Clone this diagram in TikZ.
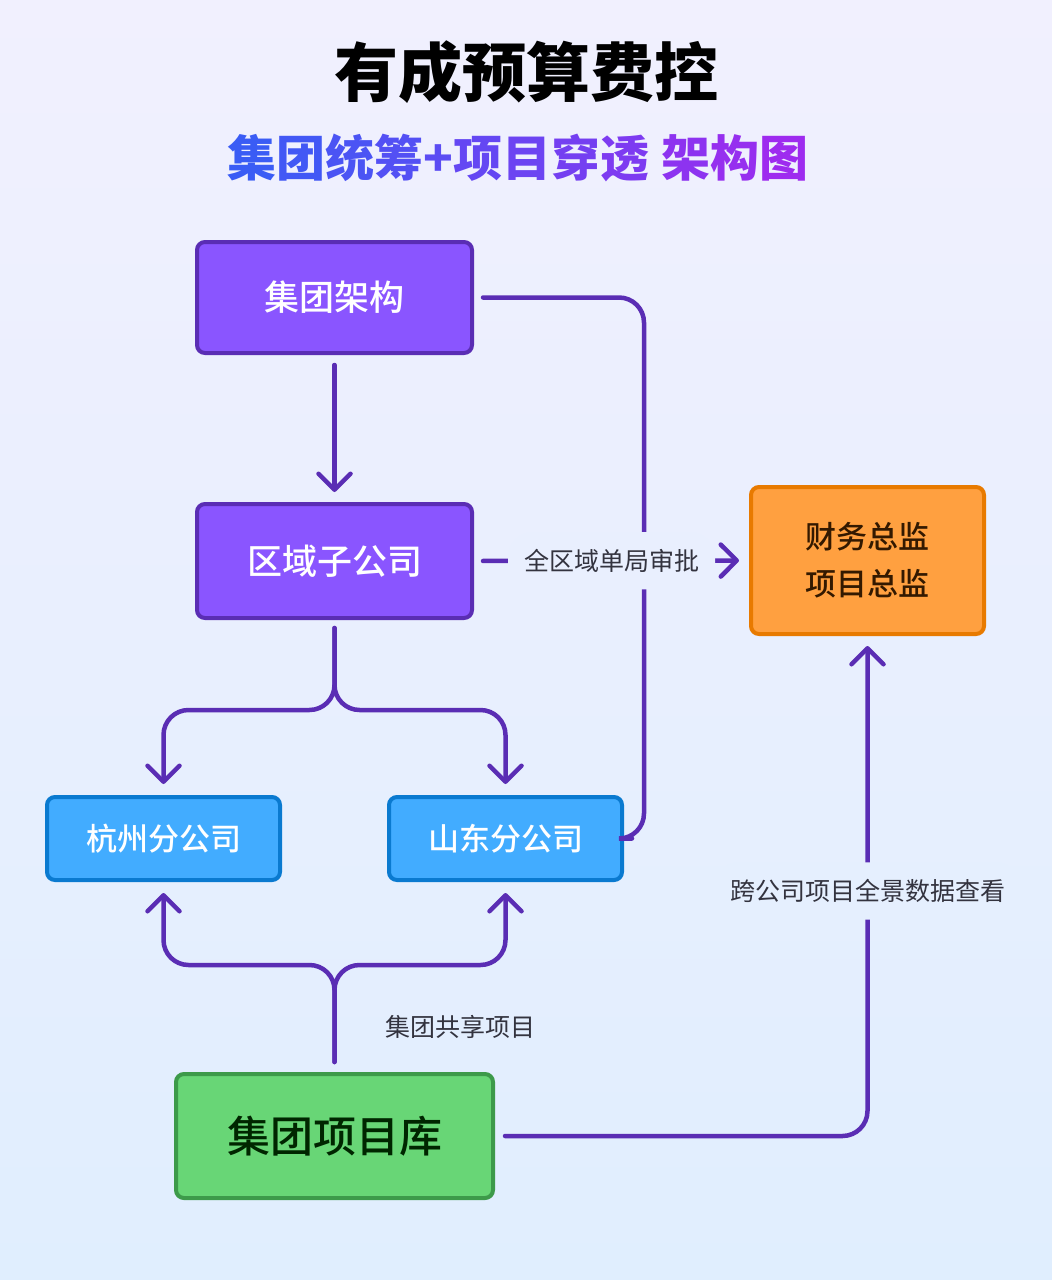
\documentclass[tikz,border=0pt]{standalone}
\usepackage{fontspec}
\setmainfont{Noto Sans CJK SC}
\newfontfamily\cjkmedium{Noto Sans CJK SC Medium}
\usetikzlibrary{arrows.meta,calc}

\definecolor{bgTop}{HTML}{F1F0FE}
\definecolor{bgBot}{HTML}{E0EEFE}
\definecolor{bgApprove}{HTML}{E9EFFE}
\definecolor{bgView}{HTML}{E5EFFE}
\definecolor{lineC}{HTML}{5A2DB4}
\definecolor{labelC}{HTML}{33333F}
\definecolor{purpleFill}{HTML}{8A55FF}
\definecolor{purpleDraw}{HTML}{5A2DB4}
\definecolor{blueFill}{HTML}{42ACFF}
\definecolor{blueDraw}{HTML}{0A7AD0}
\definecolor{orangeFill}{HTML}{FFA040}
\definecolor{orangeDraw}{HTML}{E87A00}
\definecolor{greenFill}{HTML}{68D676}
\definecolor{greenDraw}{HTML}{3D9A4A}
\definecolor{subA}{HTML}{3A5CF5}
\definecolor{subB}{HTML}{9E2BEF}

\newcommand{\gradChar}[2]{\textcolor{subB!#1!subA}{#2}}

\begin{document}
\begin{tikzpicture}
[x=1pt,y=-1pt,
  nodeBox/.style={draw,line width=4pt,rounded corners=8pt,align=center},%
  groupBox/.style={nodeBox,fill=purpleFill,draw=purpleDraw,text=white,
    minimum width=275pt,font=\cjkmedium\fontsize{35}{42}\selectfont},%
  branchBox/.style={nodeBox,fill=blueFill,draw=blueDraw,text=white,
    minimum width=233pt,minimum height=83pt,font=\cjkmedium\fontsize{31}{37}\selectfont},%
  flowLine/.style={draw=lineC,line width=4.5pt,line cap=round,rounded corners=25pt},%
  flowArrow/.style={flowLine,-{Straight Barb[length=16pt,width=32pt,round]}},%
  edgeLabel/.style={text=labelC,inner xsep=16pt,inner ysep=17pt,
    font=\fontsize{25}{30}\selectfont},%
  plainLabel/.style={text=labelC,font=\fontsize{25}{30}\selectfont}]
%% background
\shade[top color=bgTop,bottom color=bgBot] (0,0) rectangle (1052,1280);
\useasboundingbox (0,0) rectangle (1052,1280);
%% titles
\node (title) at (526,72) {\fontsize{64}{72}\bfseries\selectfont 有成预算费控};
\node (subtitle) at (518,158) {\fontsize{49}{56}\bfseries\selectfont
  \gradChar{0}{集}\gradChar{8}{团}\gradChar{17}{统}\gradChar{25}{筹}%
  \gradChar{33}{+}\gradChar{42}{项}\gradChar{50}{目}\gradChar{58}{穿}%
  \gradChar{67}{透} \gradChar{83}{架}\gradChar{92}{构}\gradChar{100}{图}};
%% boxes
\node[groupBox,minimum height=111pt] (groupArch) at (334.5,297.5) {集团架构};
\node[groupBox,minimum height=114pt] (regionSub) at (334.5,561) {区域子公司};
\node[branchBox] (hangzhou) at (163.5,838.5) {杭州分公司};
\node[branchBox] (shandong) at (505.5,838.5) {山东分公司};
\node[nodeBox,fill=orangeFill,draw=orangeDraw,text=black!80!orange,
  minimum width=233pt,minimum height=147pt,
  font=\cjkmedium\fontsize{31}{47}\selectfont] (director) at (867.5,560.5) {财务总监\\项目总监};
\node[nodeBox,fill=greenFill,draw=greenDraw,text=black!85!green,
  minimum width=317pt,minimum height=124pt,
  font=\cjkmedium\fontsize{43}{50}\selectfont] (projLib) at (334.5,1136) {集团项目库};
%% connectors
\draw[flowArrow,shorten <=10pt,shorten >=10pt] (groupArch.south) -- (regionSub.north);
\draw[flowLine,shorten <=9pt] (groupArch.east) -- (644,297.5) -- (644,838.5)
  [rounded corners=12pt] -- ($(shandong.east)+(8,0)$);
\draw[flowArrow,shorten <=9pt,shorten >=10pt] (regionSub.east) --
  node[edgeLabel,fill=bgApprove] (approveLbl) {全区域单局审批} (director.west);
\draw[flowArrow,shorten <=8pt,shorten >=11pt] (regionSub.south) -- ++(0,90) -| (hangzhou.north);
\draw[flowArrow,shorten <=8pt,shorten >=11pt] (regionSub.south) -- ++(0,90) -| (shandong.north);
\draw[flowArrow,shorten <=10pt,shorten >=11pt] (projLib.north) -- ++(0,-107) -| (hangzhou.south);
\draw[flowArrow,shorten <=10pt,shorten >=11pt] (projLib.north) -- ++(0,-107) -| (shandong.south);
\node[plainLabel] (shareLbl) at (460,1027) {集团共享项目};
\draw[flowArrow,shorten <=10pt,shorten >=10pt] (projLib.east) -|
  node[edgeLabel,fill=bgView,pos=0.745] (viewLbl) {跨公司项目全景数据查看} (director.south);
\end{tikzpicture}
\end{document}
